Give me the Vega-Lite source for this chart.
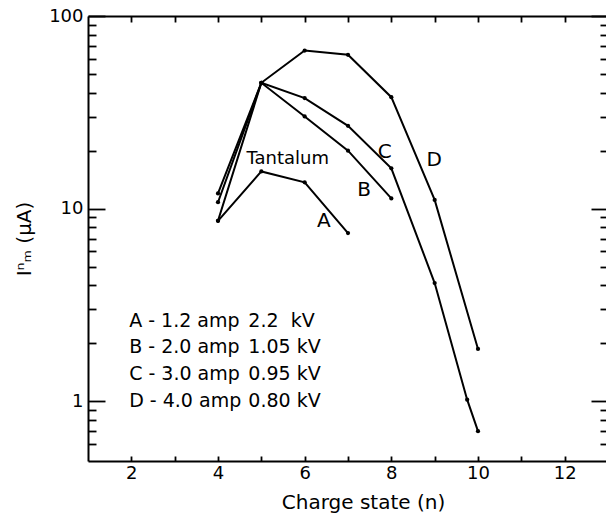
{
  "$schema": "https://vega.github.io/schema/vega-lite/v6.json",
  "width": 520,
  "height": 445,
  "autosize": {"type": "none"},
  "padding": {"left": 88, "top": 16, "right": 0, "bottom": 52},
  "background": "white",
  "config": {
    "view": {"stroke": null},
    "font": "DejaVu Sans",
    "axis": {
      "grid": false,
      "domainColor": "black",
      "domainWidth": 2,
      "tickColor": "black",
      "tickWidth": 1.8,
      "labelFont": "DejaVu Sans",
      "labelFontSize": 18,
      "labelColor": "black",
      "titleFont": "DejaVu Sans",
      "titleFontSize": 20,
      "titleFontWeight": "normal",
      "titleColor": "black"
    }
  },
  "datasets": {
    "curves": [
      {"curve": "A", "n": 4, "I": 8.65},
      {"curve": "A", "n": 5, "I": 15.6},
      {"curve": "A", "n": 6, "I": 13.7},
      {"curve": "A", "n": 7, "I": 7.47},
      {"curve": "B", "n": 4, "I": 8.65},
      {"curve": "B", "n": 5, "I": 45},
      {"curve": "B", "n": 6, "I": 30.1},
      {"curve": "B", "n": 7, "I": 20.0},
      {"curve": "B", "n": 8, "I": 11.3},
      {"curve": "C", "n": 4, "I": 10.8},
      {"curve": "C", "n": 5, "I": 45},
      {"curve": "C", "n": 6, "I": 37.5},
      {"curve": "C", "n": 7, "I": 26.9},
      {"curve": "C", "n": 8, "I": 16.2},
      {"curve": "C", "n": 9, "I": 4.11},
      {"curve": "C", "n": 9.75, "I": 1.02},
      {"curve": "C", "n": 10, "I": 0.70},
      {"curve": "D", "n": 4, "I": 12.0},
      {"curve": "D", "n": 5, "I": 45},
      {"curve": "D", "n": 6, "I": 66.2},
      {"curve": "D", "n": 7, "I": 62.9},
      {"curve": "D", "n": 8, "I": 37.9},
      {"curve": "D", "n": 9, "I": 11.1},
      {"curve": "D", "n": 10, "I": 1.87}
    ],
    "labels": [
      {"text": "Tantalum", "n": 5.61, "I": 18.1, "size": "s"},
      {"text": "A", "n": 6.44, "I": 8.65, "size": "l"},
      {"text": "B", "n": 7.37, "I": 12.5, "size": "l"},
      {"text": "C", "n": 7.85, "I": 19.7, "size": "l"},
      {"text": "D", "n": 8.99, "I": 17.9, "size": "l"}
    ],
    "legend": [
      {"text": "A - 1.2 amp", "n": 1.95, "I": 2.62},
      {"text": "B - 2.0 amp", "n": 1.95, "I": 1.92},
      {"text": "C - 3.0 amp", "n": 1.95, "I": 1.39},
      {"text": "D - 4.0 amp", "n": 1.95, "I": 1.0},
      {"text": "2.2\u00a0\u00a0kV", "n": 4.7, "I": 2.62},
      {"text": "1.05\u00a0kV", "n": 4.7, "I": 1.92},
      {"text": "0.95\u00a0kV", "n": 4.7, "I": 1.39},
      {"text": "0.80\u00a0kV", "n": 4.7, "I": 1.0}
    ]
  },
  "resolve": {"axis": {"x": "independent", "y": "independent"}},
  "layer": [
    {
      "data": {"name": "curves"},
      "mark": {"type": "line", "color": "black", "strokeWidth": 2},
      "encoding": {
        "x": {
          "field": "n", "type": "quantitative",
          "scale": {"domain": [1, 13], "nice": false, "zero": false},
          "axis": {
            "orient": "bottom",
            "values": [2, 3, 4, 5, 6, 7, 8, 9, 10, 11, 12],
            "labelExpr": "datum.value % 2 == 0 ? datum.label : ''",
            "tickSize": -5,
            "labelPadding": 8,
            "title": "Charge state (n)",
            "titleX": 275,
            "titlePadding": 10
          }
        },
        "y": {
          "field": "I", "type": "quantitative",
          "scale": {"type": "log", "domain": [0.49, 100], "nice": false},
          "axis": {
            "orient": "left",
            "values": [1, 10, 100],
            "format": "d",
            "tickSize": -17,
            "labelPadding": 22,
            "title": "Iⁿₘ (μA)",
            "titlePadding": 14
          }
        },
        "detail": {"field": "curve"}
      }
    },
    {
      "data": {"name": "curves"},
      "mark": {"type": "circle", "color": "black", "size": 18, "opacity": 1},
      "encoding": {
        "x": {
          "field": "n", "type": "quantitative",
          "scale": {"domain": [1, 13], "nice": false, "zero": false},
          "axis": {
            "orient": "top",
            "values": [2, 3, 4, 5, 6, 7, 8, 9, 10, 11, 12],
            "tickSize": -6,
            "labels": false,
            "title": null
          }
        },
        "y": {
          "field": "I", "type": "quantitative",
          "scale": {"type": "log", "domain": [0.49, 100], "nice": false},
          "axis": {
            "orient": "left",
            "values": [0.6, 0.7, 0.8, 0.9, 2, 3, 4, 5, 6, 7, 8, 9, 20, 30, 40, 50, 60, 70, 80, 90],
            "tickSize": -8,
            "labels": false,
            "domain": false,
            "title": null
          }
        }
      }
    },
    {
      "data": {"name": "labels"},
      "mark": {"type": "text", "color": "black", "align": "center", "baseline": "middle", "font": "DejaVu Sans"},
      "encoding": {
        "x": {"field": "n", "type": "quantitative", "scale": {"domain": [1, 13], "nice": false, "zero": false}, "axis": null},
        "y": {
          "field": "I", "type": "quantitative",
          "scale": {"type": "log", "domain": [0.49, 100], "nice": false},
          "axis": {
            "orient": "right",
            "values": [1, 10, 100],
            "tickSize": -17,
            "labels": false,
            "title": null
          }
        },
        "text": {"field": "text"},
        "size": {"field": "size", "type": "nominal", "scale": {"domain": ["s", "l"], "range": [18, 20]}, "legend": null}
      }
    },
    {
      "data": {"name": "legend"},
      "mark": {"type": "text", "color": "black", "align": "left", "baseline": "middle", "font": "DejaVu Sans", "fontSize": 19},
      "encoding": {
        "x": {"field": "n", "type": "quantitative", "scale": {"domain": [1, 13], "nice": false, "zero": false}, "axis": null},
        "y": {
          "field": "I", "type": "quantitative",
          "scale": {"type": "log", "domain": [0.49, 100], "nice": false},
          "axis": {
            "orient": "right",
            "values": [0.6, 0.7, 0.8, 0.9, 2, 3, 4, 5, 6, 7, 8, 9, 20, 30, 40, 50, 60, 70, 80, 90],
            "tickSize": -8,
            "labels": false,
            "domain": false,
            "title": null
          }
        },
        "text": {"field": "text"}
      }
    }
  ]
}
